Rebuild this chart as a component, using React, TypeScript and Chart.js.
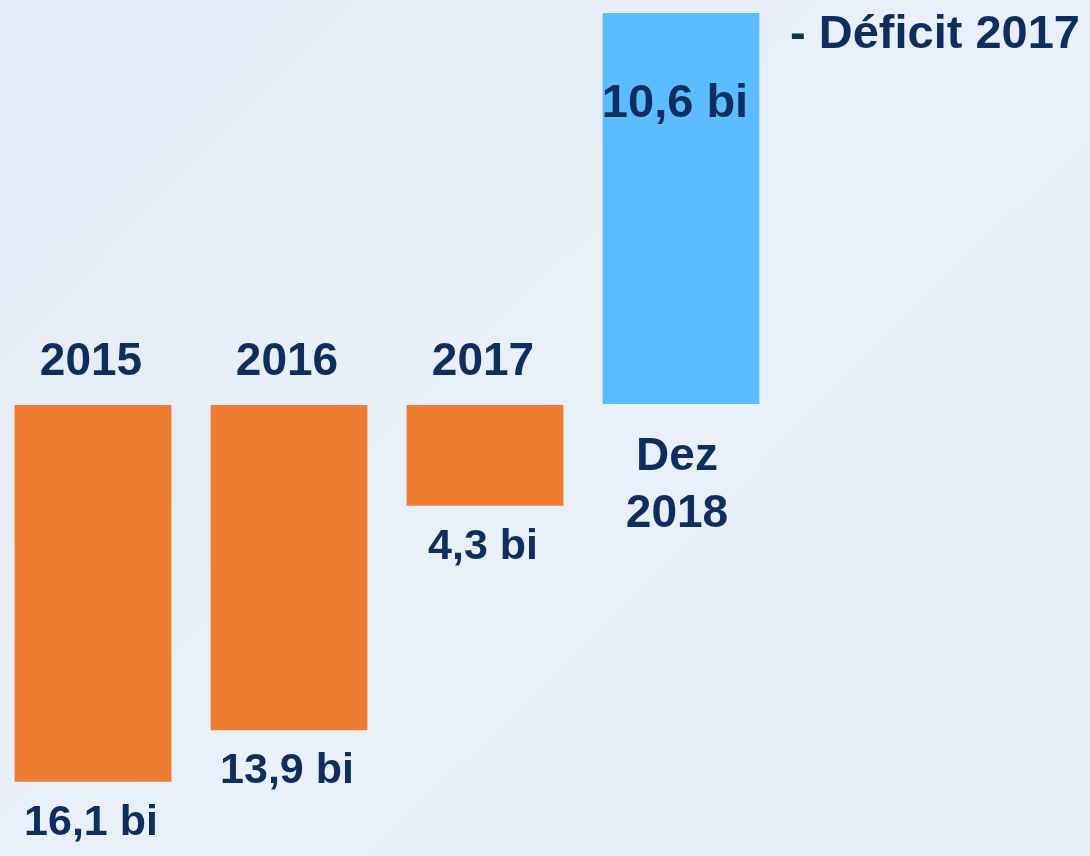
import React, { useEffect, useRef } from "react";
import { Chart, registerables } from "chart.js";

Chart.register(...registerables);

const categories = ["2015", "2016", "2017", "Dez\n2018"];
const deficitValues = [-16.1, -13.9, -4.3, null];
const surplusValues = [null, null, null, 10.6];
const valueLabels = ["16,1 bi", "13,9 bi", "4,3 bi", "10,6 bi"];
const sideNote = "- Déficit 2017";

const NAVY = "#0f2e5e";
const FONT = "bold 46px 'Liberation Sans', Arial, sans-serif";
const FONT_VAL = "bold 43px 'Liberation Sans', Arial, sans-serif";
const FONT_BIG = "bold 47px 'Liberation Sans', Arial, sans-serif";

const labelPlugin = {
  id: "barLabels",
  afterDatasetsDraw(chart: any) {
    const ctx = chart.ctx;
    ctx.save();
    ctx.fillStyle = NAVY;
    ctx.textAlign = "center";
    ctx.textBaseline = "alphabetic";
    chart.data.datasets.forEach((ds: any, di: number) => {
      const meta = chart.getDatasetMeta(di);
      meta.data.forEach((bar: any, i: number) => {
        const v = ds.data[i];
        if (v === null || v === undefined) return;
        const lines = categories[i].split("\n");
        if (v < 0) {
          ctx.font = FONT;
          ctx.fillText(lines.join(" "), bar.x - 2, bar.base - 30);
          ctx.font = FONT_VAL;
          ctx.fillText(valueLabels[i], bar.x - 2, bar.y + 53);
        } else {
          ctx.font = FONT;
          lines.forEach((ln: string, k: number) => {
            ctx.fillText(ln, bar.x - 4, bar.base + 66 + k * 57);
          });
          ctx.font = FONT_BIG;
          ctx.fillText(valueLabels[i], bar.x - 6, bar.y + 104);
        }
      });
    });
    ctx.textAlign = "left";
    ctx.font = FONT_BIG;
    ctx.fillText(sideNote, chart.chartArea.right + 11, 48);
    ctx.restore();
  },
};

export default function App() {
  const ref = useRef<HTMLCanvasElement>(null);
  useEffect(() => {
    document.body.style.margin = "0";
    document.body.style.background = "#e8eef8";
    const chart = new Chart(ref.current!, {
      type: "bar",
      data: {
        labels: categories,
        datasets: [
          {
            data: deficitValues as any,
            backgroundColor: "#ed7d31",
            yAxisID: "y",
            grouped: false,
            barPercentage: 0.8,
            categoryPercentage: 1,
          } as any,
          {
            data: surplusValues as any,
            backgroundColor: "#5bbcff",
            yAxisID: "y2",
            grouped: false,
            barPercentage: 0.8,
            categoryPercentage: 1,
          } as any,
        ],
      },
      options: {
        responsive: false,
        animation: false,
        layout: { padding: { left: 0, right: 311, top: 0, bottom: 0 } },
        plugins: { legend: { display: false }, tooltip: { enabled: false } },
        scales: {
          x: { display: false },
          y: { display: false, min: -19.27, max: 17.31 },
          y2: { display: false, min: -12.25, max: 10.95 },
        },
      },
      plugins: [labelPlugin],
    });
    return () => chart.destroy();
  }, []);
  return (
    <div
      style={{
        position: "relative",
        width: 1090,
        height: 856,
        overflow: "hidden",
        background: "linear-gradient(135deg, #e4ebf6 0%, #eaf0f9 50%, #e6edf7 100%)",
      }}
    >
      <canvas
        ref={ref}
        width={1095}
        height={856}
        style={{ position: "absolute", left: -5, top: 0, width: 1095, height: 856 }}
      />
    </div>
  );
}
